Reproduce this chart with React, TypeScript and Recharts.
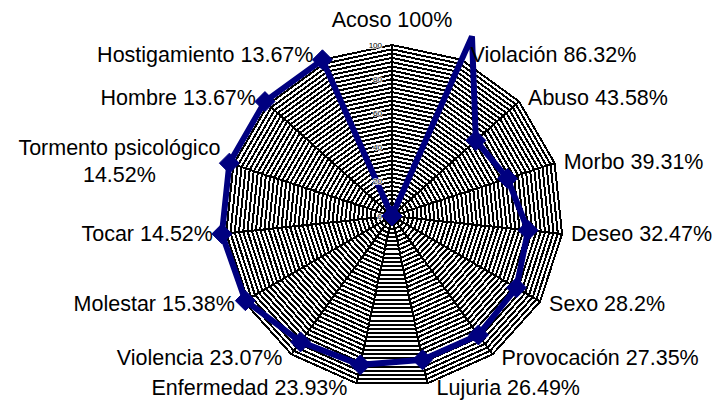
import { RadarChart, Radar, PolarGrid, PolarAngleAxis, PolarRadiusAxis } from "recharts";

// Word-association survey: share of answers per term, plotted on a 0-100 radar
const categories = [
  "Acoso",
  "Violación",
  "Abuso",
  "Morbo",
  "Deseo",
  "Sexo",
  "Provocación",
  "Lujuria",
  "Enfermedad",
  "Violencia",
  "Molestar",
  "Tocar",
  "Tormento psicológico",
  "Hombre",
  "Hostigamiento",
];
const percents = [
  "100%",
  "86.32%",
  "43.58%",
  "39.31%",
  "32.47%",
  "28.2%",
  "27.35%",
  "26.49%",
  "23.93%",
  "23.07%",
  "15.38%",
  "14.52%",
  "14.52%",
  "13.67%",
  "13.67%",
];
const values = [0, 115, 66, 71, 80, 84, 86, 86, 89, 91, 99, 100, 100, 100, 100];

// every ring of the web, and the ones that get a number
const ringTicks = [
  0, 2.5, 5, 7.5, 10, 12.5, 15, 17.5, 20, 22.5, 25, 27.5, 30, 32.5, 35, 37.5, 40, 42.5, 45, 47.5, 50,
  52.5, 55, 57.5, 60, 62.5, 65, 67.5, 70, 72.5, 75, 77.5, 80, 82.5, 85, 87.5, 90, 92.5, 95, 97.5, 100,
];
const labeledTicks = [0, 20, 40, 60, 80, 100];
const RADIUS_MAX = 100;

const W = 717;
const H = 405;
const CX = 392;
const CY = 216;
const R = 171;
const NAVY = "#000080";
const FONT = "'Liberation Sans', Arial, sans-serif";
const LABEL_SIZE = 21.5;

const data = categories.map((name, i) => ({ name, pct: percents[i], value: values[i] }));

let ctx: CanvasRenderingContext2D | null = null;
function textWidth(s: string) {
  if (!ctx) ctx = document.createElement("canvas").getContext("2d");
  if (!ctx) return s.length * LABEL_SIZE * 0.55;
  ctx.font = `${LABEL_SIZE}px 'Liberation Sans'`;
  return ctx.measureText(s).width;
}

function AngleLabel(props: any) {
  const { payload } = props;
  const idx = payload.index ?? categories.indexOf(payload.value);
  const a = (payload.coordinate * Math.PI) / 180;
  const vx = CX + R * Math.cos(a);
  const vy = CY - R * Math.sin(a);
  const cos = Math.cos(a);
  const name = payload.value as string;
  const pct = percents[idx];
  const common = {
    fontFamily: FONT,
    fontSize: LABEL_SIZE,
    fill: "#000",
    dominantBaseline: "central" as const,
  };

  if (Math.abs(cos) < 0.01) {
    return (
      <text x={vx} y={vy - 25} textAnchor="middle" {...common}>
        {`${name} ${pct}`}
      </text>
    );
  }

  const dx = cos > 0 ? 9 : -9;
  const y = vy - 5 * Math.sin(a);
  const anchor = cos > 0 ? "start" : "end";

  // long names wrap onto two centred lines
  if (name.length > 15) {
    const w = textWidth(name);
    const mid = cos > 0 ? vx + dx + w / 2 : vx + dx - w / 2;
    return (
      <g>
        <text x={mid} y={y - 13.5} textAnchor="middle" {...common}>
          {name}
        </text>
        <text x={mid} y={y + 13.5} textAnchor="middle" {...common}>
          {pct}
        </text>
      </g>
    );
  }

  return (
    <text x={vx + dx} y={y} textAnchor={anchor} {...common}>
      {`${name} ${pct}`}
    </text>
  );
}

function RadiusLabel(props: any) {
  const { x, y, payload } = props;
  if (!labeledTicks.includes(payload.value)) return <g />;
  return (
    <text
      x={x - 10}
      y={y}
      textAnchor="end"
      dominantBaseline="central"
      fontFamily={FONT}
      fontSize={8}
      fill="#000"
      stroke="#fff"
      strokeWidth={1.5}
      paintOrder="stroke"
    >
      {payload.value}
    </text>
  );
}

function Diamond(props: any) {
  const { cx, cy, payload } = props;
  const v = typeof payload?.value === "number" ? payload.value : props.value;
  // markers past the outer ring fall outside the plot area and are not drawn
  if (v > RADIUS_MAX || cx == null) return <g key={props.index} />;
  const s = 10;
  return (
    <path
      key={props.index}
      d={`M${cx},${cy - s}L${cx + s},${cy}L${cx},${cy + s}L${cx - s},${cy}Z`}
      fill={NAVY}
      stroke={NAVY}
    />
  );
}

export default function App() {
  return (
    <div style={{ position: "absolute", left: 0, top: 0, width: W, height: H, background: "#fff" }}>
      <RadarChart
        width={W}
        height={H}
        data={data}
        cx={CX}
        cy={CY}
        outerRadius={R}
        margin={{ top: 0, right: 0, bottom: 0, left: 0 }}
      >
        <PolarGrid
          gridType="polygon"
          stroke="#000"
          strokeWidth={2}
          strokeOpacity={1}
          shapeRendering="crispEdges"
        />
        <PolarAngleAxis dataKey="name" tick={AngleLabel} tickLine={false} axisLine={false} />
        <PolarRadiusAxis
          angle={90}
          domain={[0, RADIUS_MAX]}
          allowDataOverflow
          ticks={ringTicks}
          tick={RadiusLabel}
          tickLine={false}
          axisLine={false}
          tickCount={ringTicks.length}
        />
        <Radar
          dataKey="value"
          stroke={NAVY}
          strokeWidth={6}
          fill="none"
          fillOpacity={0}
          dot={Diamond}
          isAnimationActive={false}
        />
      </RadarChart>
    </div>
  );
}
